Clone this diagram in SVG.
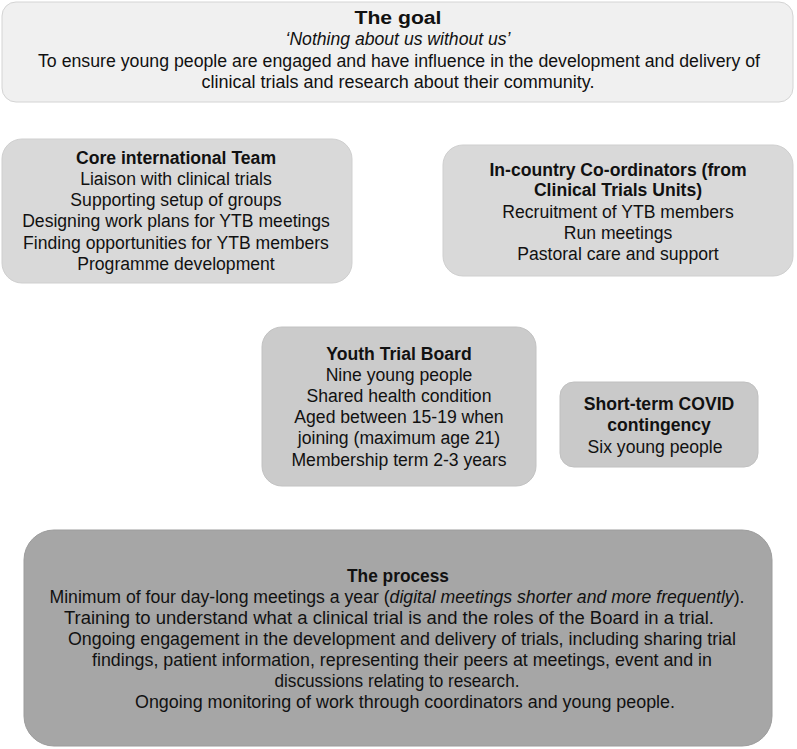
<svg xmlns="http://www.w3.org/2000/svg" width="797" height="749" viewBox="0 0 797 749">
<style>
text{font-family:"Liberation Sans",Arial,sans-serif;fill:#111;text-anchor:middle}
.n{font-size:17.6px}
.c{font-size:17.5px}
.b{font-weight:bold}
.i{font-style:italic}
.box{stroke-width:1}
</style>
<rect width="797" height="749" fill="#fff"/>
<g id="goal">
<rect class="box" x="2" y="2" width="791" height="100" rx="14" fill="#f0f0f0" stroke="#d4d4d4"/>
<text class="c b" x="398" y="24" textLength="87" lengthAdjust="spacingAndGlyphs">The goal</text>
<text class="c i" x="398" y="45" textLength="225" lengthAdjust="spacingAndGlyphs">‘Nothing about us without us’</text>
<text class="c" x="399" y="67" textLength="722" lengthAdjust="spacingAndGlyphs">To ensure young people are engaged and have influence in the development and delivery of</text>
<text class="c" x="398" y="88" textLength="393" lengthAdjust="spacingAndGlyphs">clinical trials and research about their community.</text>
</g>
<g id="core">
<rect class="box" x="2" y="139" width="350" height="144" rx="20" fill="#d9d9d9" stroke="#cfcfcf"/>
<text class="n b" x="176" y="164">Core international Team</text>
<text class="n" x="176" y="185">Liaison with clinical trials</text>
<text class="n" x="176" y="206">Supporting setup of groups</text>
<text class="n" x="176" y="227">Designing work plans for YTB meetings</text>
<text class="n" x="176" y="249">Finding opportunities for YTB members</text>
<text class="n" x="176" y="270">Programme development</text>
</g>
<g id="coordinators">
<rect class="box" x="443" y="145" width="350" height="131" rx="20" fill="#d9d9d9" stroke="#cfcfcf"/>
<text class="n b" x="618" y="176">In-country Co-ordinators (from</text>
<text class="n b" x="618" y="196">Clinical Trials Units)</text>
<text class="n" x="618" y="218">Recruitment of YTB members</text>
<text class="n" x="618" y="239">Run meetings</text>
<text class="n" x="618" y="260">Pastoral care and support</text>
</g>
<g id="ytb">
<rect class="box" x="262" y="327" width="274" height="159" rx="20" fill="#cbcbcb" stroke="#c2c2c2"/>
<text class="n b" x="399" y="360">Youth Trial Board</text>
<text class="n" x="399" y="381">Nine young people</text>
<text class="n" x="399" y="402">Shared health condition</text>
<text class="n" x="399" y="423">Aged between 15-19 when</text>
<text class="n" x="399" y="444">joining (maximum age 21)</text>
<text class="n" x="399" y="466">Membership term 2-3 years</text>
</g>
<g id="covid">
<rect class="box" x="560" y="382" width="198" height="85" rx="14" fill="#c9c9c9" stroke="#c0c0c0"/>
<text class="n b" x="659" y="410">Short-term COVID</text>
<text class="n b" x="659" y="431">contingency</text>
<text class="n" x="655" y="453">Six young people</text>
</g>
<g id="process">
<rect class="box" x="24" y="530" width="748" height="216" rx="30" fill="#a6a6a6" stroke="#9c9c9c"/>
<text class="c b" x="398" y="582" textLength="102" lengthAdjust="spacingAndGlyphs">The process</text>
<text class="c" x="397" y="603" textLength="695" lengthAdjust="spacingAndGlyphs">Minimum of four day-long meetings a year (<tspan class="i">digital meetings shorter and more frequently</tspan>).</text>
<text class="c" x="389" y="624" textLength="650" lengthAdjust="spacingAndGlyphs">Training to understand what a clinical trial is and the roles of the Board in a trial.</text>
<text class="c" x="402" y="645" textLength="668" lengthAdjust="spacingAndGlyphs">Ongoing engagement in the development and delivery of trials, including sharing trial</text>
<text class="c" x="402" y="666" textLength="620" lengthAdjust="spacingAndGlyphs">findings, patient information, representing their peers at meetings, event and in</text>
<text class="c" x="397" y="687" textLength="245" lengthAdjust="spacingAndGlyphs">discussions relating to research.</text>
<text class="c" x="405" y="708" textLength="540" lengthAdjust="spacingAndGlyphs">Ongoing monitoring of work through coordinators and young people.</text>
</g>
<g id="connectors"></g>
</svg>
